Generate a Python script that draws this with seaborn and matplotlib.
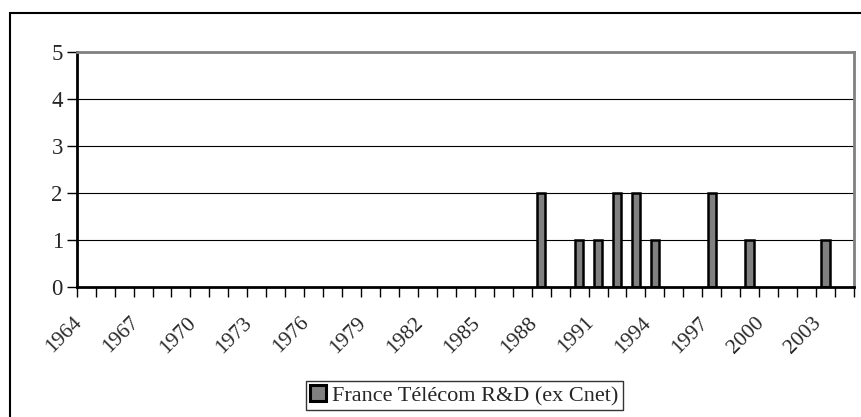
import matplotlib.pyplot as plt
import matplotlib.transforms as mtransforms
import pandas as pd
import seaborn as sns
from matplotlib.patches import Rectangle

# Data
years = list(range(1964, 2005))
bar_years = [1988, 1990, 1991, 1992, 1993, 1994, 1997, 1999, 2003]
bar_counts = [2, 1, 1, 2, 2, 1, 2, 1, 1]
y_ticks = [0, 1, 2, 3, 4, 5]
series_name = "France Télécom R&D (ex Cnet)"

sns.set_theme(style="white")
plt.rcParams["font.family"] = ["Liberation Serif", "DejaVu Serif"]

df = pd.DataFrame({"year": [str(y) for y in bar_years], "count": bar_counts,
                   "series": series_name})

fig = plt.figure(figsize=(8.62, 4.17), dpi=100)
ax = fig.add_axes([76.7 / 862, 1 - 286.7 / 417, (854 - 76.7) / 862, (286.7 - 52.3) / 417])

sns.barplot(data=df, x="year", y="count", hue="series", order=[str(y) for y in years],
            palette=["#808080"], edgecolor="black", linewidth=1.8, width=0.45,
            ax=ax, legend=True)

ax.set_xlim(-0.5, len(years) - 0.5)
ax.set_ylim(0, 5)
ax.set_yticks(y_ticks)
ax.set_yticklabels([str(v) for v in y_ticks], fontsize=16.5)
ax.tick_params(axis="y", length=7, width=1, color="black", pad=3, left=True)

# gridlines
for v in y_ticks[1:-1]:
    ax.axhline(v, color="black", lw=0.8, zorder=0)

# category boundaries as major ticks, labels every 3 years as minor ticks
ax.set_xticks([i - 0.5 for i in range(len(years) + 1)])
ax.set_xticklabels([])
ax.tick_params(axis="x", which="major", length=7, width=1, color="black", bottom=True)
label_pos = list(range(0, len(years), 3))
ax.set_xticks(label_pos, minor=True)
ax.set_xticklabels([str(years[i]) for i in label_pos], minor=True, fontsize=15.5,
                   rotation=45, ha="right", va="center", rotation_mode="anchor")
ax.tick_params(axis="x", which="minor", length=0, pad=24)
offset = mtransforms.ScaledTranslation(-7 / 100, 0, fig.dpi_scale_trans)
for lab in ax.get_xticklabels(minor=True):
    lab.set_transform(lab.get_transform() + offset)

ax.set_xlabel("")
ax.set_ylabel("")

for side in ["left", "bottom"]:
    ax.spines[side].set_color("black")
    ax.spines[side].set_linewidth(2)
for side in ["top", "right"]:
    ax.spines[side].set_color("#808080")
    ax.spines[side].set_linewidth(2)

leg = ax.legend(loc="upper center", bbox_to_anchor=(464.5 / 862, 1 - 381 / 417),
                bbox_transform=fig.transFigure, frameon=True, fancybox=False,
                fontsize=16, handlelength=0.7, handleheight=0.7, handletextpad=0.3,
                borderpad=0.2, borderaxespad=0)
leg.get_frame().set_edgecolor("black")
leg.get_frame().set_linewidth(1)
for h in leg.legend_handles:
    h.set_linewidth(2.2)

# outer chart border (cut off at right and bottom)
fig.patches.append(Rectangle((10 / 862, -0.1), 1.2, 1 - 12.7 / 417 + 0.1,
                             transform=fig.transFigure, fill=False,
                             edgecolor="black", linewidth=1.5))

fig.savefig("out.png", dpi=100)
